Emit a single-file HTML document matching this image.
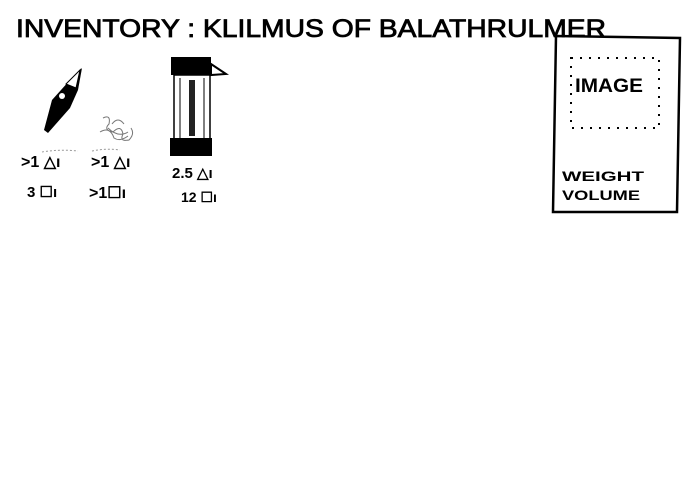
<!DOCTYPE html>
<html><head><meta charset="utf-8"><style>
html,body{margin:0;padding:0;background:#fff;width:700px;height:500px;overflow:hidden}
svg{display:block}
text{font-family:"Liberation Sans",sans-serif;font-weight:bold;fill:#000}
</style></head><body>
<svg width="700" height="500" viewBox="0 0 700 500" xmlns="http://www.w3.org/2000/svg">
<text x="16" y="37" font-size="25" style="font-weight:normal" stroke="#000" stroke-width="0.8" textLength="590" lengthAdjust="spacingAndGlyphs">INVENTORY : KLILMUS OF BALATHRULMER</text>
<path d="M82 68 L70 80 L52 100 L44 130 L48 133 L70 108 L78 90 Z" fill="#000"/>
<path d="M66 84 L80 70 L76 88 Z" fill="#fff" stroke="#000" stroke-width="1"/>
<circle cx="62" cy="96" r="3" fill="#fff"/>
<path d="M42 152 Q60 149 78 151" stroke="#999" stroke-width="1" fill="none" stroke-dasharray="2 2"/>
<path d="M103 118 q8 -4 6 6 q-6 6 4 8 q8 -8 10 2 q-4 8 6 6 q6 -6 2 -12 M108 128 q10 10 20 4 M112 124 q6 -8 12 0 M100 132 q10 -6 14 6 q6 4 14 -2" stroke="#777" stroke-width="1" fill="none"/>
<path d="M92 151 Q106 148 120 150" stroke="#999" stroke-width="1" fill="none" stroke-dasharray="2 2"/>
<rect x="171" y="57" width="40" height="18" fill="#000"/>
<path d="M211 64 L226 74 L211 75 Z" fill="#fff" stroke="#000" stroke-width="2"/>
<rect x="174" y="75" width="36" height="64" fill="none" stroke="#000" stroke-width="1.5"/>
<line x1="180" y1="78" x2="180" y2="138" stroke="#000"/>
<line x1="204" y1="78" x2="204" y2="138" stroke="#000"/>
<rect x="189" y="80" width="6" height="56" fill="#222"/>
<rect x="170" y="138" width="42" height="18" fill="#000"/>
<text x="21" y="167" font-size="16">&gt;1 △ı</text>
<text x="91" y="167" font-size="16">&gt;1 △ı</text>
<text x="172" y="178" font-size="15">2.5 △ı</text>
<text x="27" y="197" font-size="15">3 ☐ı</text>
<text x="89" y="198" font-size="16">&gt;1☐ı</text>
<text x="181" y="202" font-size="14">12 ☐ı</text>
<path d="M556 36 L680 38 L677 212 L553 212 Z" fill="none" stroke="#000" stroke-width="2.5"/>
<rect x="571" y="58" width="88" height="70" fill="none" stroke="#000" stroke-width="2" stroke-dasharray="2 7"/>
<text x="575" y="92" font-size="19" textLength="68" lengthAdjust="spacingAndGlyphs">IMAGE</text>
<text x="562" y="181" font-size="14" textLength="82" lengthAdjust="spacingAndGlyphs">WEIGHT</text>
<text x="562" y="200" font-size="14" textLength="78" lengthAdjust="spacingAndGlyphs">VOLUME</text>
</svg>
</body></html>
